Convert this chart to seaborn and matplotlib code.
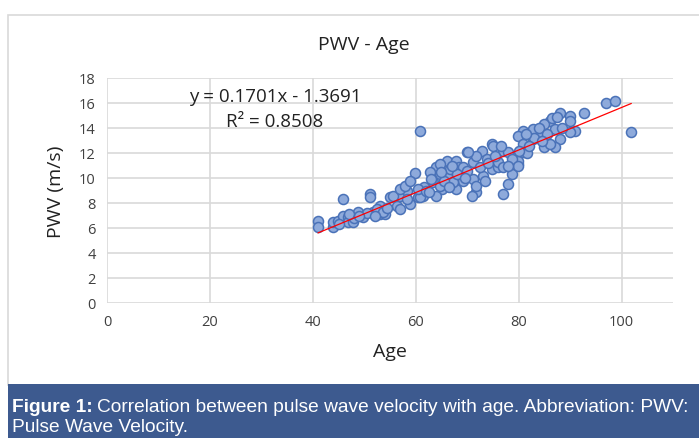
import matplotlib.pyplot as plt
import numpy as np
import pandas as pd
import seaborn as sns
from matplotlib.patches import Rectangle

# Data
age = [41.0, 41.0, 43.9, 43.9, 44.9, 45.8, 45.8, 46.8, 46.8, 47.8, 48.7, 49.7,
       51.1, 51.1, 51.7, 53.0, 53.0, 54.0, 55.0, 56.3, 56.9, 58.8, 58.3, 60.4,
       52.4, 53.6, 55.5, 56.9, 58.3, 57.9, 56.9, 50.5, 48.0, 45.0, 47.0, 54.5,
       52.0, 49.0,
       59.8, 58.8, 63.1, 64.0, 66.0, 67.9, 69.9, 72.8, 74.9, 76.9, 78.8, 79.8,
       78.8, 77.9, 76.9, 71.8, 70.9, 67.9, 69.1, 65.2, 64.0, 61.4, 60.8, 66.0,
       68.5, 71.1, 73.0, 74.8, 75.9, 73.8, 69.1, 63.3, 61.7, 64.7, 67.2, 60.4,
       64.7, 66.6, 71.1, 71.8, 60.8, 64.7, 62.7, 71.8, 75.0, 70.1, 62.0, 63.0,
       65.5, 66.5, 68.0, 70.0, 72.5, 74.0, 76.0, 77.0, 62.5, 65.0, 67.0, 69.5,
       73.5, 75.5, 78.0, 76.5,
       96.9, 98.8, 101.9, 92.8, 88.0, 89.9, 89.9, 91.0, 89.9, 86.0, 85.0, 87.0,
       88.0, 87.0, 84.9, 83.9, 82.7, 80.8, 79.8, 82.7, 80.8, 80.8, 81.7, 79.8,
       78.8, 79.8, 77.9, 86.0, 84.0, 86.5, 87.5, 83.0, 81.5, 85.5, 88.5, 84.5,
       82.0, 80.0]
pwv = [6.6, 6.1, 6.1, 6.5, 6.6, 8.3, 7.0, 6.9, 6.5, 6.5, 7.3, 6.9,
       8.7, 8.5, 7.3, 7.1, 7.8, 7.1, 8.5, 7.8, 8.6, 7.9, 9.0, 8.5,
       7.5, 7.3, 8.6, 9.1, 8.3, 9.4, 7.5, 7.2, 6.8, 6.3, 7.1, 7.6,
       7.0, 7.0,
       10.4, 9.8, 10.5, 10.9, 11.4, 11.4, 12.1, 12.2, 12.7, 12.2, 11.7, 11.1,
       10.3, 9.5, 8.7, 8.9, 8.6, 9.1, 9.8, 9.1, 8.6, 8.6, 8.5, 10.2,
       10.9, 11.3, 10.2, 10.7, 10.9, 11.5, 10.9, 9.7, 9.3, 9.4, 9.7, 9.1,
       10.3, 10.7, 9.9, 9.4, 13.8, 11.1, 10.5, 11.8, 12.6, 12.1, 9.0, 9.9,
       9.8, 9.3, 10.3, 10.6, 10.9, 11.2, 11.3, 10.9, 8.9, 10.5, 11.0, 10.0,
       9.8, 11.8, 12.1, 12.6,
       16.0, 16.2, 13.7, 15.2, 15.2, 15.0, 14.6, 13.8, 13.7, 14.6, 14.3, 13.9,
       13.1, 12.5, 12.5, 13.7, 13.9, 13.8, 13.4, 13.1, 12.7, 12.1, 12.0, 11.4,
       11.5, 11.0, 11.0, 12.7, 14.0, 14.8, 14.9, 13.2, 13.5, 13.5, 14.0, 13.0,
       12.6, 12.2]

# Trendline as printed on the chart
trend_slope = 0.1701
trend_intercept = -1.3691
r_squared = 0.8508

df = pd.DataFrame({'Age': age, 'PWV': pwv})

sns.set_style('white')
plt.rcParams['font.family'] = ['Open Sans', 'DejaVu Sans']
cap_font = ['Liberation Sans', 'DejaVu Sans']

fig = plt.figure(figsize=(6.99, 4.39), dpi=100)
ax = fig.add_axes([107 / 699, 1 - 304 / 439, 566 / 699, 225 / 439])

# outer frame and caption bar
fig.patches.append(Rectangle((8 / 699, 1 - 386 / 439), 1, 370 / 439,
                             transform=fig.transFigure, facecolor='white',
                             edgecolor='#d9d9d9', linewidth=1.2, zorder=-1))
fig.patches.append(Rectangle((8 / 699, 0), 1, 54 / 439,
                             transform=fig.transFigure, facecolor='#3d5a8f',
                             edgecolor='none', zorder=0))

sns.scatterplot(data=df, x='Age', y='PWV', ax=ax, s=52, color='#8eaadb',
                edgecolor='#4a72b8', linewidth=1.1, zorder=3)

xs = np.array([df['Age'].min(), df['Age'].max()])
ax.plot(xs, trend_slope * xs + trend_intercept, color='#ff0000', linewidth=0.9, zorder=4)

ax.set_xlim(0, 110)
ax.set_ylim(0, 18)
ax.set_xticks(range(0, 101, 20))
ax.set_yticks(range(0, 19, 2))
ax.grid(True, color='#d9d9d9', linewidth=1.2)
ax.set_axisbelow(True)
for s in ax.spines.values():
    s.set_visible(False)
ax.tick_params(length=0, labelsize=10.5, colors='#404040', pad=8)
ax.set_xlabel('Age', fontsize=14, color='#222222', labelpad=9)
ax.set_ylabel('PWV (m/s)', fontsize=14, color='#222222', labelpad=10)

fig.text(364 / 699, 1 - 45 / 439, 'PWV - Age', ha='center', va='center',
         fontsize=14, color='#222222')
ax.text(275 / 699, 1 - 97 / 439, 'y = %.4fx - %.4f' % (trend_slope, -trend_intercept),
        transform=fig.transFigure, ha='center', va='center', fontsize=13.5, color='#222222')
ax.text(275 / 699, 1 - 122 / 439, 'R² = %.4f' % r_squared,
        transform=fig.transFigure, ha='center', va='center', fontsize=13.5, color='#222222')

# caption with a bold lead-in
t1 = fig.text(12 / 699, 1 - 408 / 439, 'Figure 1:', fontfamily=cap_font,
              fontweight='bold', fontsize=13.8, color='white', va='center')
fig.canvas.draw()
bb = t1.get_window_extent(fig.canvas.get_renderer())
fig.text(bb.x1 / 699 + 4 / 699, 1 - 408 / 439,
         'Correlation between pulse wave velocity with age. Abbreviation: PWV:',
         fontfamily=cap_font, fontsize=13.8, color='white', va='center')
fig.text(12 / 699, 1 - 428 / 439, 'Pulse Wave Velocity.', fontfamily=cap_font,
         fontsize=13.8, color='white', va='center')

fig.savefig('out.png', dpi=100)
